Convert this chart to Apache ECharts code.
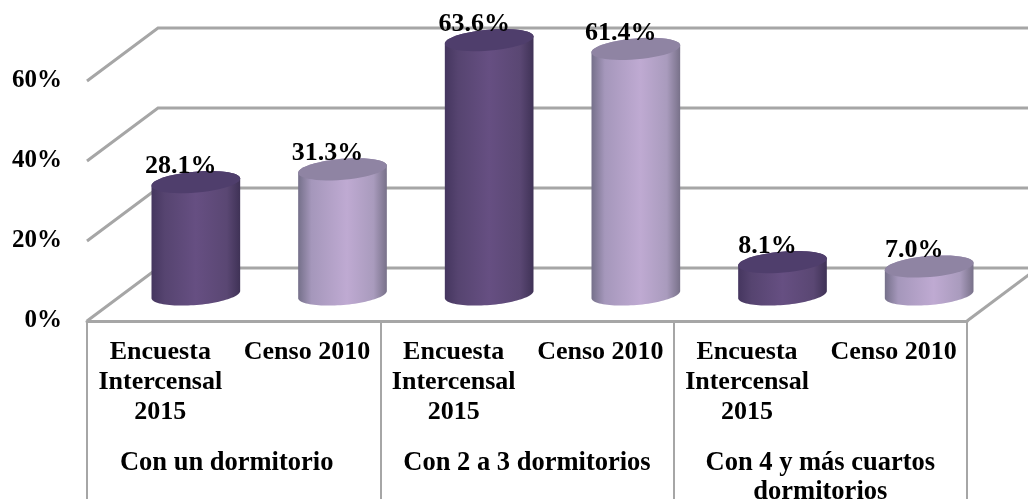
<!DOCTYPE html>
<html>
<head>
<meta charset="utf-8">
<title>Dormitorios</title>
<style>
  html, body { margin: 0; padding: 0; background: #fff; }
  #chart { width: 1028px; height: 499px; }
</style>
</head>
<body>
<div id="chart"></div>
<script src="https://cdn.jsdelivr.net/npm/echarts@6/dist/echarts.min.js"></script>
<script>
var categories = [
  'Encuesta\nIntercensal\n2015', 'Censo 2010',
  'Encuesta\nIntercensal\n2015', 'Censo 2010',
  'Encuesta\nIntercensal\n2015', 'Censo 2010'
]
var groups = ['Con un dormitorio', 'Con 2 a 3 dormitorios', 'Con 4 y más cuartos\ndormitorios']
var encuestaValues = [28.1, 63.6, 8.1]
var censoValues = [31.3, 61.4, 7.0]
var yTicks = [0, 20, 40, 60]

var FONT = '"Liberation Serif", "Times New Roman", serif'
var GRAY = '#a6a6a6'
// profundidad de la caja 3D, en pixeles
var DEPTH_X = 71
var DEPTH_Y = -53
// cilindro
var RX = 44.5
var RY = 10.5
var TILT = -0.085

function ellipsePoint(cx, cy, t) {
  var ex = RX * Math.cos(t)
  var ey = RY * Math.sin(t)
  return [
    cx + ex * Math.cos(TILT) - ey * Math.sin(TILT),
    cy + ex * Math.sin(TILT) + ey * Math.cos(TILT)
  ]
}

function ellipseArc(cx, cy, from, to) {
  var pts = []
  for (var i = 0; i <= 48; i++) {
    pts.push(ellipsePoint(cx, cy, from + (to - from) * i / 48))
  }
  return pts
}

function sideGradient(stops) {
  return {
    type: 'linear', x: 0, y: 0, x2: 1, y2: 0,
    colorStops: stops.map(function (c) {
      return { offset: c[0], color: c[1] }
    })
  }
}

function cylinderRenderer(bodyStops, topColor) {
  return function (params, api) {
    var base = api.coord([api.value(0), 0])
    var top = api.coord([api.value(0), api.value(1)])
    var cx = base[0] + DEPTH_X / 2
    var baseY = base[1] + DEPTH_Y / 2
    var topY = top[1] + DEPTH_Y / 2
    // cuerpo: arco inferior de la base + arco superior de la tapa
    var body = ellipseArc(cx, baseY, Math.PI, 0).concat(ellipseArc(cx, topY, 0, -Math.PI))
    return {
      type: 'group',
      children: [
        { type: 'polygon', shape: { points: body }, style: { fill: sideGradient(bodyStops) } },
        { type: 'polygon', shape: { points: ellipseArc(cx, topY, 0, Math.PI * 2) }, style: { fill: topColor } },
        {
          type: 'text',
          z2: 10,
          style: {
            x: cx - 15,
            y: topY - 16,
            text: api.value(1).toFixed(1) + '%',
            align: 'center',
            verticalAlign: 'middle',
            fill: '#000',
            font: 'bold 26px ' + FONT
          }
        }
      ]
    }
  }
}

function wallRenderer(params, api) {
  var y = api.coord([0, api.value(0)])[1]
  var left = params.coordSys.x
  var right = left + params.coordSys.width
  var lineStyle = { stroke: GRAY, lineWidth: 3, fill: null }
  var children = [{
    type: 'polyline',
    shape: { points: [[left, y], [left + DEPTH_X, y + DEPTH_Y], [right + DEPTH_X, y + DEPTH_Y]] },
    style: lineStyle
  }]
  if (api.value(0) === 0) {
    children.push({
      type: 'line',
      shape: { x1: right, y1: y, x2: right + DEPTH_X, y2: y + DEPTH_Y },
      style: lineStyle
    })
  }
  return { type: 'group', children: children }
}

var darkBody = [[0, '#45365f'], [0.15, '#564470'], [0.5, '#664f82'], [0.85, '#5a4773'], [1, '#3f3256']]
var lightBody = [[0, '#75708a'], [0.15, '#a597bb'], [0.55, '#bfaad2'], [0.85, '#a99bbd'], [1, '#787189']]

var chart = echarts.init(document.getElementById('chart'))
chart.setOption({
  animation: false,
  backgroundColor: '#fff',
  grid: { left: 87, top: 81, width: 880, height: 240, containLabel: false, outerBoundsMode: 'none' },
  xAxis: [
    {
      type: 'category',
      data: categories,
      position: 'bottom',
      axisLine: { show: false },
      axisTick: { show: false },
      axisLabel: {
        interval: 0,
        margin: 16,
        lineHeight: 30,
        color: '#000',
        fontFamily: FONT,
        fontWeight: 'bold',
        fontSize: 26
      }
    },
    {
      type: 'category',
      data: groups.map(function (g, i) {
        // la primera etiqueta va algo corrida a la izquierda
        return i === 0 ? { value: g, textStyle: { padding: [0, 14, 0, 0] } } : g
      }),
      position: 'bottom',
      axisLine: { show: true, lineStyle: { color: GRAY, width: 3 } },
      axisTick: { show: true, alignWithLabel: false, length: 178, lineStyle: { color: GRAY, width: 2 } },
      axisLabel: {
        interval: 0,
        margin: 128,
        lineHeight: 29,
        color: '#000',
        fontFamily: FONT,
        fontWeight: 'bold',
        fontSize: 26.5
      }
    }
  ],
  yAxis: {
    type: 'value',
    min: 0,
    max: 60,
    interval: 20,
    axisLine: { show: false },
    axisTick: { show: false },
    splitLine: { show: false },
    axisLabel: {
      margin: 25,
      padding: [3, 0, 0, 0],
      formatter: '{value}%',
      color: '#000',
      fontFamily: FONT,
      fontWeight: 'bold',
      fontSize: 25
    }
  },
  series: [
    {
      type: 'custom',
      name: 'paredes',
      z: 1,
      silent: true,
      data: yTicks.map(function (v) { return [v] }),
      encode: { y: 0 },
      renderItem: wallRenderer
    },
    {
      type: 'custom',
      name: 'Encuesta Intercensal 2015',
      z: 2,
      data: encuestaValues.map(function (v, i) { return [i * 2, v] }),
      encode: { x: 0, y: 1 },
      renderItem: cylinderRenderer(darkBody, '#4f3e6c')
    },
    {
      type: 'custom',
      name: 'Censo 2010',
      z: 2,
      data: censoValues.map(function (v, i) { return [i * 2 + 1, v] }),
      encode: { x: 0, y: 1 },
      renderItem: cylinderRenderer(lightBody, '#8f84a3')
    }
  ]
})
</script>
</body>
</html>
